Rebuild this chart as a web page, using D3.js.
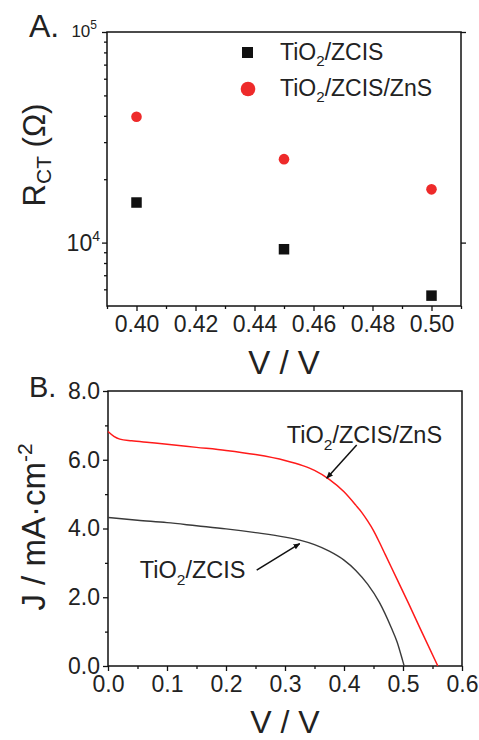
<!DOCTYPE html>
<html><head><meta charset="utf-8">
<script src="https://cdn.jsdelivr.net/npm/d3@7"></script>
<style>
html,body{margin:0;padding:0;background:#fff;}
svg{display:block;font-family:"Liberation Sans",Arial,sans-serif;}
</style></head>
<body>
<svg id="c" width="479" height="740"></svg>
<script>
// ---------- DATA ----------
// Panel A: charge-transfer resistance vs bias
const aVolt = [0.40, 0.45, 0.50];
const rctZCIS = [15500, 9300, 5600];
const rctZnS = [39600, 24900, 17900];
const aXTicks = [0.40, 0.42, 0.44, 0.46, 0.48, 0.50];
const aXMinor = [0.39, 0.41, 0.43, 0.45, 0.47, 0.49, 0.51];
const aYMajor = [1e4, 1e5];
const aYMinor = [6e3, 7e3, 8e3, 9e3, 2e4, 3e4, 4e4, 5e4, 6e4, 7e4, 8e4, 9e4];

// Panel B: J-V curves
const vZnS = [0, 0.01, 0.02, 0.04, 0.07, 0.10, 0.15, 0.20, 0.25, 0.30, 0.33, 0.35, 0.375, 0.40, 0.42, 0.43, 0.44, 0.45, 0.46, 0.47, 0.49, 0.51, 0.53, 0.559];
const jZnS = [6.82, 6.68, 6.60, 6.55, 6.50, 6.45, 6.36, 6.27, 6.15, 5.98, 5.83, 5.69, 5.43, 5.07, 4.68, 4.47, 4.22, 3.94, 3.60, 3.24, 2.52, 1.80, 1.06, 0.0];
const vZCIS = [0, 0.05, 0.10, 0.15, 0.20, 0.25, 0.30, 0.325, 0.35, 0.375, 0.40, 0.42, 0.44, 0.46, 0.48, 0.49, 0.50, 0.502];
const jZCIS = [4.32, 4.24, 4.17, 4.08, 3.99, 3.88, 3.75, 3.66, 3.53, 3.34, 3.08, 2.78, 2.38, 1.85, 1.12, 0.70, 0.12, 0.0];
const bXTicks = [0, 0.1, 0.2, 0.3, 0.4, 0.5, 0.6];
const bXMinor = [0.05, 0.15, 0.25, 0.35, 0.45, 0.55];
const bYTicks = [0, 2, 4, 6, 8];
const bYMinor = [1, 3, 5, 7];
// annotations (data units): [textV, textJ, tailV, tailJ, tipV, tipJ]
const annZnS = [0.303, 6.48, 0.4215, 6.43, 0.3707, 5.46];
const annZCIS = [0.054, 2.55, 0.252, 2.79, 0.325, 3.56];

const RED = "#ee2a2a";
const svg = d3.select("#c");
const FONT = "Liberation Sans, Arial, sans-serif";
const TICKFS = 23;

svg.append("defs").append("marker")
  .attr("id", "ah").attr("viewBox", "0 0 10 10").attr("refX", 9).attr("refY", 5)
  .attr("markerWidth", 7).attr("markerHeight", 7).attr("markerUnits", "userSpaceOnUse")
  .attr("orient", "auto")
  .append("path").attr("d", "M0,1 L10,5 L0,9 Z").attr("fill", "#111");

function chemLabel(g, x, y, parts, size) {
  const t = g.append("text").attr("x", x).attr("y", y)
    .attr("font-size", size).attr("fill", "#222").attr("font-family", FONT);
  let sub = false;
  parts.forEach(([s, isSub]) => {
    const ts = t.append("tspan").text(s);
    if (isSub && !sub) { ts.attr("dy", size * 0.28).attr("font-size", size * 0.66); sub = true; }
    else if (!isSub && sub) { ts.attr("dy", -size * 0.28); sub = false; }
  });
  return t;
}

function styleAxis(g) {
  g.select(".domain").remove();
  g.selectAll(".tick line").attr("stroke", "#111").attr("stroke-width", 1.3);
  g.selectAll(".tick text").attr("font-family", FONT).attr("fill", "#222");
}

// ---------- PANEL A ----------
const A = {l: 107, r: 461, t: 32, b: 306};
const xA = d3.scaleLinear().domain([0.39, 0.51]).range([A.l, A.r]);
const yA = d3.scaleLog().domain([5000, 100000]).range([A.b, A.t]);
const gA = svg.append("g");

gA.append("g").attr("transform", `translate(0,${A.b})`)
  .call(d3.axisBottom(xA).tickValues(aXTicks).tickFormat(d3.format(".2f")).tickSize(5).tickPadding(5))
  .call(styleAxis).call(g => g.selectAll("text").attr("font-size", TICKFS));
gA.append("g").attr("transform", `translate(0,${A.b})`)
  .call(d3.axisBottom(xA).tickValues(aXMinor).tickFormat("").tickSize(3)).call(styleAxis);
gA.append("g").attr("transform", `translate(${A.l},0)`)
  .call(d3.axisLeft(yA).tickValues(aYMajor).tickFormat("").tickSize(5)).call(styleAxis);
gA.append("g").attr("transform", `translate(${A.l},0)`)
  .call(d3.axisLeft(yA).tickValues(aYMinor).tickFormat("").tickSize(3)).call(styleAxis);
gA.append("g").attr("transform", `translate(${A.r},0)`)
  .call(d3.axisRight(yA).tickValues(aYMajor).tickFormat("").tickSize(5)).call(styleAxis);

const t4 = gA.append("text").attr("x", A.l - 7).attr("y", yA(1e4) + 8)
  .attr("text-anchor", "end").attr("font-size", TICKFS).attr("fill", "#222").attr("font-family", FONT);
t4.append("tspan").text("10");
t4.append("tspan").text("4").attr("font-size", 14).attr("dy", -10);
const t5 = gA.append("text").attr("x", A.l - 10).attr("y", yA(1e5) + 5)
  .attr("text-anchor", "end").attr("font-size", 17).attr("fill", "#222").attr("font-family", FONT);
t5.append("tspan").text("10");
t5.append("tspan").text("5").attr("font-size", 12).attr("dy", -8);

gA.append("rect").attr("x", A.l).attr("y", A.t).attr("width", A.r - A.l).attr("height", A.b - A.t)
  .attr("fill", "none").attr("stroke", "#111").attr("stroke-width", 1.5);

const sq = 10.5;
gA.selectAll("rect.pt").data(aVolt.map((v, i) => [v, rctZCIS[i]])).join("rect").attr("class", "pt")
  .attr("x", d => xA(d[0]) - sq / 2).attr("y", d => yA(d[1]) - sq / 2)
  .attr("width", sq).attr("height", sq).attr("fill", "#111");
gA.selectAll("circle.pt").data(aVolt.map((v, i) => [v, rctZnS[i]])).join("circle").attr("class", "pt")
  .attr("cx", d => xA(d[0])).attr("cy", d => yA(d[1])).attr("r", 5.3).attr("fill", RED);

// legend
gA.append("rect").attr("x", 242).attr("y", 47).attr("width", 11).attr("height", 11).attr("fill", "#111");
gA.append("circle").attr("cx", 248).attr("cy", 89).attr("r", 7.3).attr("fill", RED);
chemLabel(gA, 280, 60, [["TiO", false], ["2", true], ["/ZCIS", false]], 23);
chemLabel(gA, 280, 96, [["TiO", false], ["2", true], ["/ZCIS/ZnS", false]], 23);

const ra = gA.append("text").attr("transform", "translate(45,155) rotate(-90)")
  .attr("text-anchor", "middle").attr("font-size", 31).attr("fill", "#222").attr("font-family", FONT);
ra.append("tspan").text("R");
ra.append("tspan").text("CT").attr("font-size", 21).attr("dy", 6);
ra.append("tspan").text(" (Ω)").attr("dy", -6);
gA.append("text").attr("x", (A.l + A.r) / 2).attr("y", 374).attr("text-anchor", "middle")
  .attr("font-size", 33).attr("fill", "#222").attr("font-family", FONT).text("V / V");
gA.append("text").attr("x", 29).attr("y", 37).attr("font-size", 32).attr("fill", "#222")
  .attr("font-family", FONT).text("A.");

// ---------- PANEL B ----------
const B = {l: 108, r: 462, t: 391, b: 666};
const xB = d3.scaleLinear().domain([0, 0.6]).range([B.l, B.r]);
const yB = d3.scaleLinear().domain([0, 8]).range([B.b, B.t]);
const gB = svg.append("g");

gB.append("g").attr("transform", `translate(0,${B.b})`)
  .call(d3.axisBottom(xB).tickValues(bXTicks).tickFormat(d3.format(".1f")).tickSize(5).tickPadding(5))
  .call(styleAxis).call(g => g.selectAll("text").attr("font-size", TICKFS));
gB.append("g").attr("transform", `translate(0,${B.b})`)
  .call(d3.axisBottom(xB).tickValues(bXMinor).tickFormat("").tickSize(3)).call(styleAxis);
gB.append("g").attr("transform", `translate(${B.l},0)`)
  .call(d3.axisLeft(yB).tickValues(bYTicks).tickFormat(d3.format(".1f")).tickSize(5).tickPadding(3))
  .call(styleAxis).call(g => g.selectAll("text").attr("font-size", TICKFS));
gB.append("g").attr("transform", `translate(${B.l},0)`)
  .call(d3.axisLeft(yB).tickValues(bYMinor).tickFormat("").tickSize(3)).call(styleAxis);

gB.append("rect").attr("x", B.l).attr("y", B.t).attr("width", B.r - B.l).attr("height", B.b - B.t)
  .attr("fill", "none").attr("stroke", "#111").attr("stroke-width", 1.5);

const line = d3.line().x(d => xB(d[0])).y(d => yB(d[1])).curve(d3.curveMonotoneX);
gB.append("path").datum(vZCIS.map((v, i) => [v, jZCIS[i]])).attr("d", line)
  .attr("fill", "none").attr("stroke", "#3a3a3a").attr("stroke-width", 1.4);
gB.append("path").datum(vZnS.map((v, i) => [v, jZnS[i]])).attr("d", line)
  .attr("fill", "none").attr("stroke", "#ff1a1a").attr("stroke-width", 1.5);

function annotate(a, parts) {
  chemLabel(gB, xB(a[0]), yB(a[1]), parts, 23.5);
  gB.append("line").attr("x1", xB(a[2])).attr("y1", yB(a[3])).attr("x2", xB(a[4])).attr("y2", yB(a[5]))
    .attr("stroke", "#111").attr("stroke-width", 1.5).attr("marker-end", "url(#ah)");
}
annotate(annZnS, [["TiO", false], ["2", true], ["/ZCIS/ZnS", false]]);
annotate(annZCIS, [["TiO", false], ["2", true], ["/ZCIS", false]]);

const jb = gB.append("text").attr("transform", "translate(45,527) rotate(-90)")
  .attr("text-anchor", "middle").attr("font-size", 33).attr("fill", "#222").attr("font-family", FONT);
jb.append("tspan").text("J / mA·cm");
jb.append("tspan").text("-2").attr("font-size", 21).attr("dy", -13);
gB.append("text").attr("x", (B.l + B.r) / 2).attr("y", 733).attr("text-anchor", "middle")
  .attr("font-size", 32).attr("fill", "#222").attr("font-family", FONT).text("V / V");
gB.append("text").attr("x", 29).attr("y", 397).attr("font-size", 29).attr("fill", "#222")
  .attr("font-family", FONT).text("B.");
</script>
</body></html>
